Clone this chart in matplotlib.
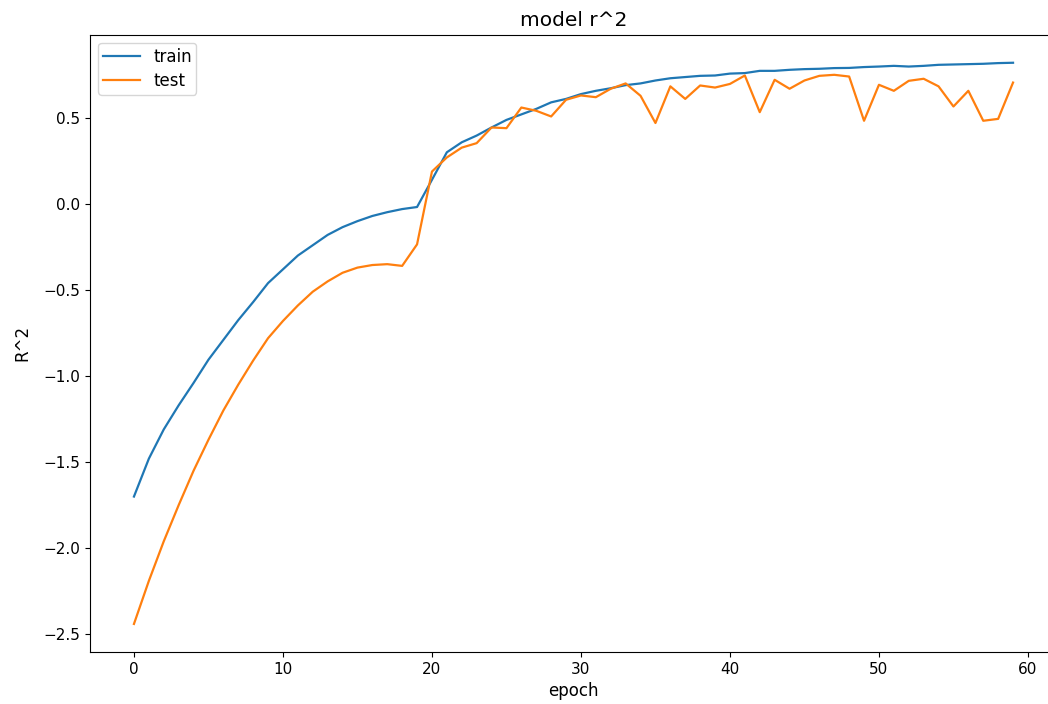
import matplotlib
matplotlib.use("Agg")
import matplotlib.pyplot as plt
import numpy as np

epochs = list(range(60))

train_r2 = [
    -1.70, -1.48, -1.31, -1.17, -1.04, -0.905, -0.79, -0.675, -0.57, -0.46,
    -0.38, -0.30, -0.24, -0.18, -0.135, -0.10, -0.07, -0.048, -0.03, -0.018,
    0.14, 0.30, 0.358, 0.397, 0.444, 0.488, 0.52, 0.552, 0.59, 0.61,
    0.638, 0.657, 0.672, 0.69, 0.70, 0.717, 0.73, 0.737, 0.744, 0.746,
    0.757, 0.76, 0.773, 0.773, 0.779, 0.783, 0.785, 0.789, 0.79, 0.795,
    0.798, 0.802, 0.798, 0.802, 0.808, 0.81, 0.812, 0.814, 0.818, 0.82,
]

test_r2 = [
    -2.44, -2.19, -1.96, -1.75, -1.55, -1.37, -1.20, -1.05, -0.91, -0.78,
    -0.68, -0.59, -0.51, -0.45, -0.40, -0.37, -0.355, -0.35, -0.36, -0.235,
    0.188, 0.27, 0.327, 0.353, 0.444, 0.44, 0.56, 0.541, 0.508, 0.605,
    0.63, 0.62, 0.669, 0.70, 0.628, 0.47, 0.683, 0.61, 0.688, 0.676,
    0.697, 0.746, 0.533, 0.721, 0.669, 0.717, 0.744, 0.75, 0.74, 0.483,
    0.692, 0.657, 0.715, 0.727, 0.683, 0.566, 0.657, 0.483, 0.494, 0.705,
]

series_labels = ["train", "test"]

W, H = 1048, 704
fig = plt.figure(figsize=(W / 100, H / 100), dpi=100)
ax = fig.add_axes([90 / W, (H - 652) / H, 967 / W, (652 - 34.7) / H])

ax.plot(epochs, train_r2, label=series_labels[0], color="#1f77b4", linewidth=1.6)
ax.plot(epochs, test_r2, label=series_labels[1], color="#ff7f0e", linewidth=1.6)

ax.spines["right"].set_visible(False)
ax.set_title("model r^2", fontsize=14.5)
ax.set_xlabel("epoch", fontsize=12)
ax.set_ylabel("R^2", fontsize=12, labelpad=9)
ax.tick_params(labelsize=11)
ax.legend(loc="upper left", fontsize=12, labelspacing=0.38, borderpad=0.28,
          handlelength=2.2)

fig.savefig("out.png", dpi=100)
